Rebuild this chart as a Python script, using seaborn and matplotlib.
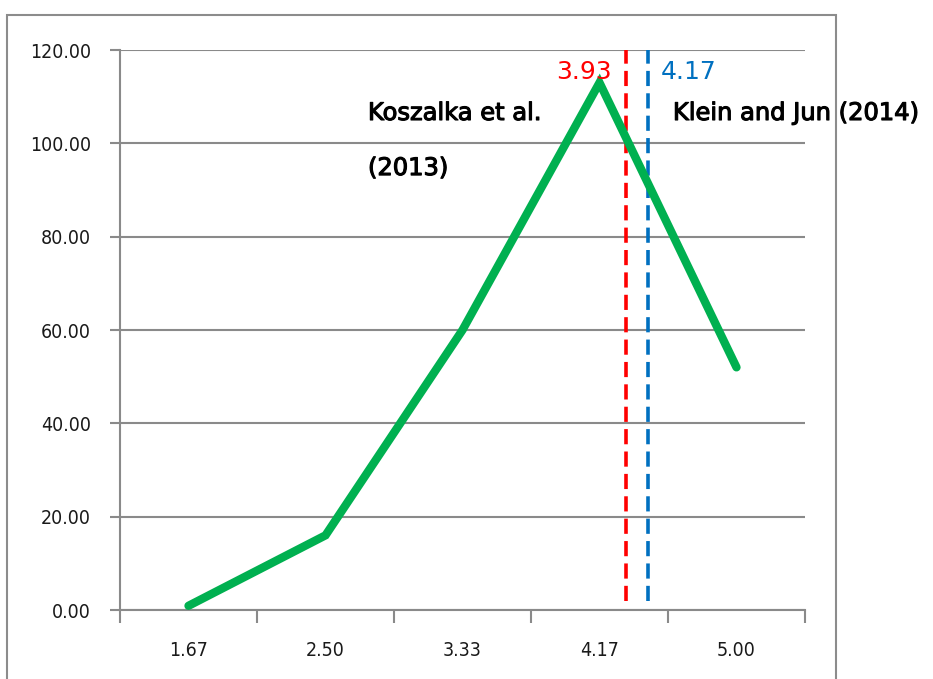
import matplotlib
matplotlib.use("Agg")
import matplotlib.pyplot as plt
import matplotlib.patheffects as pe
from matplotlib.patches import Rectangle
from matplotlib.ticker import FixedLocator
import seaborn as sns
import pandas as pd

# Data
categories = ["1.67", "2.50", "3.33", "4.17", "5.00"]
counts = [0.9, 16.0, 60.0, 113.0, 52.0]
y_ticks = [0, 20, 40, 60, 80, 100, 120]

# Reference lines (position on the category axis, label)
ref_positions = [3.19, 3.355]
ref_labels = ["3.93", "4.17"]
ref_colors = ["#FF0000", "#0070C0"]

df = pd.DataFrame({"x": categories, "y": counts})

sns.set_theme(style="white")
plt.rcParams["font.family"] = ["DejaVu Sans"]

fig = plt.figure(figsize=(9.33, 6.79), dpi=100)
fig.patch.set_facecolor("white")
# outer chart border
fig.add_artist(Rectangle((7 / 933, -0.05), (836 - 7) / 933, 1 - 15 / 679 + 0.05,
                         transform=fig.transFigure, fill=False,
                         edgecolor="#8c8c8c", linewidth=1.5))

ax = fig.add_axes([120 / 933, 1 - 610 / 679, 685 / 933, 560 / 679])
ax.set_facecolor("white")

grid_c = "#8a8a8a"
tick_kw = dict(fontsize=14, family="DejaVu Sans", fontstretch="condensed", color="#1a1a1a")
ax.set_ylim(0, 120)
ax.set_xlim(-0.5, 4.5)
ax.set_yticks(y_ticks)
ax.set_yticklabels([f"{v:.2f}" for v in y_ticks], **tick_kw)
ax.yaxis.grid(True, color=grid_c, linewidth=1.5)
ax.set_axisbelow(True)
ax.tick_params(axis="y", length=7, width=1.5, color=grid_c, pad=14, direction="out", left=True)

ax.set_xticks(range(len(categories)))
ax.set_xticklabels(categories, **tick_kw)
ax.tick_params(axis="x", which="major", length=0, pad=22)
ax.xaxis.set_minor_locator(FixedLocator([i - 0.5 for i in range(len(categories) + 1)]))
ax.tick_params(axis="x", which="minor", length=9, width=1.5, color=grid_c, direction="out", bottom=True)

for side in ["top", "right"]:
    ax.spines[side].set_visible(False)
ax.spines["left"].set_color(grid_c)
ax.spines["left"].set_linewidth(1.5)
ax.spines["bottom"].set_color(grid_c)
ax.spines["bottom"].set_linewidth(1.5)

for pos, col in zip(ref_positions, ref_colors):
    ax.plot([pos, pos], [2, 120], color=col, linewidth=2.6, linestyle=(0, (4.2, 2.0)), zorder=2)

sns.lineplot(data=df, x="x", y="y", ax=ax, color="#00B050", linewidth=6,
             solid_capstyle="round", solid_joinstyle="miter", sort=False, zorder=3)
ax.set_xlabel("")
ax.set_ylabel("")

ax.text(ref_positions[0] - 0.1, 115.3, ref_labels[0], color=ref_colors[0], fontsize=18,
        ha="right", va="center")
ax.text(ref_positions[1] + 0.09, 115.3, ref_labels[1], color=ref_colors[1], fontsize=18,
        ha="left", va="center")
note_kw = dict(fontsize=17.4, ha="left", va="center", color="#000000",
               path_effects=[pe.withStroke(linewidth=0.8, foreground="#000000")])
ax.text(1.31, 106.5, "Koszalka et al.", **note_kw)
ax.text(1.31, 94.7, "(2013)", **note_kw)
ax.text(3.536, 106.5, "Klein and Jun (2014)", clip_on=False, **note_kw)

fig.savefig("out.png", dpi=100, facecolor="white")
